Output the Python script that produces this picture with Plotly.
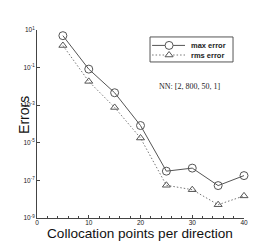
import plotly.graph_objects as go

x_points = [5, 10, 15, 20, 25, 30, 35, 40]
max_error = [5.0, 0.083, 0.0046, 8.3e-5, 3.1e-7, 4.5e-7, 5.3e-8, 1.8e-7]
rms_error = [1.5, 0.0185, 7.6e-4, 1.8e-5, 5.5e-8, 3.2e-8, 5.1e-9, 1.5e-8]
series_names = ["max error", "rms error"]
y_tick_vals = [1e1, 1e-1, 1e-3, 1e-5, 1e-7, 1e-9]
y_tick_text = ["10<sup>1</sup>", "10<sup>-1</sup>", "10<sup>-3</sup>", "10<sup>-5</sup>",
               "10<sup>-7</sup>", "10<sup>-9</sup>"]
x_tick_vals = [0, 10, 20, 30, 40]

X_RANGE = [0, 40]
Y_RANGE_LOG = [-9, 1]

SOLID = "#555555"
DOT = "#777777"
MARK = "#555555"
DOT_DASH = "1.5px,2px"
sans = "Liberation Sans, Arial, sans-serif"

fig = go.Figure()
fig.add_trace(go.Scatter(
    x=x_points, y=max_error, name=series_names[0], mode="lines+markers",
    line=dict(color=SOLID, width=1, dash="solid"), cliponaxis=False,
    marker=dict(symbol="circle-open", size=8, color=MARK, line=dict(width=1)),
    showlegend=False,
))
fig.add_trace(go.Scatter(
    x=x_points, y=rms_error, name=series_names[1], mode="lines+markers",
    line=dict(color=DOT, width=1, dash=DOT_DASH), cliponaxis=False,
    marker=dict(symbol="triangle-up-open", size=7, color=MARK, line=dict(width=1)),
    showlegend=False,
))

# ---- hand-built legend box (paper fractions) ----
leg_x0, leg_x1, leg_y0, leg_y1 = 0.546, 0.947, 0.830, 0.963
row_y = [0.918, 0.867]
line_x = [0.556, 0.715]
sym_x = 0.638
text_x = 0.734


def paper_to_data(px, py):
    dx = X_RANGE[0] + px * (X_RANGE[1] - X_RANGE[0])
    dy = 10 ** (Y_RANGE_LOG[0] + py * (Y_RANGE_LOG[1] - Y_RANGE_LOG[0]))
    return dx, dy


fig.add_shape(type="rect", xref="paper", yref="paper",
              x0=leg_x0, x1=leg_x1, y0=leg_y0, y1=leg_y1,
              line=dict(color="#555555", width=1), layer="below")
for i, (nm, dash, col, sym, sz) in enumerate([
        (series_names[0], "solid", SOLID, "circle-open", 8),
        (series_names[1], DOT_DASH, DOT, "triangle-up-open", 7)]):
    fig.add_shape(type="line", xref="paper", yref="paper",
                  x0=line_x[0], x1=line_x[1], y0=row_y[i], y1=row_y[i],
                  line=dict(color=col, width=1, dash=dash), layer="below")
    mx, my = paper_to_data(sym_x, row_y[i])
    fig.add_trace(go.Scatter(
        x=[mx], y=[my], mode="markers",
        marker=dict(symbol=sym.replace("-open", ""), size=sz, color="white",
                    line=dict(width=1, color=MARK)),
        showlegend=False, hoverinfo="skip", cliponaxis=False,
    ))
    fig.add_annotation(x=text_x, y=row_y[i], xref="paper", yref="paper",
                       xanchor="left", yanchor="middle", showarrow=False, text=nm,
                       font=dict(family=sans, size=7.5, color="#222222", weight="bold"))

fig.add_annotation(
    x=0.739, y=0.697, xref="paper", yref="paper", xanchor="center", yanchor="middle",
    text="NN: [2, 800, 50, 1]", showarrow=False,
    font=dict(family="Liberation Serif, Times New Roman, serif", size=8, color="#222222"),
)
fig.add_annotation(
    x=0.498, y=-0.085, xref="paper", yref="paper", xanchor="center", yanchor="middle",
    text="Collocation points per direction", showarrow=False,
    font=dict(family=sans, size=13.6, color="#111111"),
)
fig.add_annotation(
    x=-0.063, y=0.548, xref="paper", yref="paper", xanchor="center", yanchor="middle",
    text="Errors", showarrow=False, textangle=-90,
    font=dict(family=sans, size=14, color="#111111"),
)

fig.update_layout(
    width=277, height=246,
    margin=dict(l=37, r=33, t=30, b=28),
    paper_bgcolor="white", plot_bgcolor="white",
    font=dict(family=sans, color="#222222"),
    showlegend=False,
    xaxis=dict(
        range=X_RANGE, tickvals=x_tick_vals, ticks="inside", ticklen=3,
        tickcolor="#444444", showline=True, linecolor="#444444", linewidth=1,
        showgrid=False, zeroline=False, tickfont=dict(size=6.5),
        ticklabelstandoff=-2,
        minor=dict(dtick=2, ticks="inside", ticklen=2, tickcolor="#444444"),
    ),
    yaxis=dict(
        type="log", range=Y_RANGE_LOG, tickvals=y_tick_vals, ticktext=y_tick_text,
        ticks="inside", ticklen=3, tickcolor="#444444",
        showline=True, linecolor="#444444", linewidth=1,
        showgrid=False, zeroline=False, tickfont=dict(size=6.5),
    ),
)

fig.write_html("out.html", config={"displayModeBar": False},
               post_script="document.body.style.margin='0';")
